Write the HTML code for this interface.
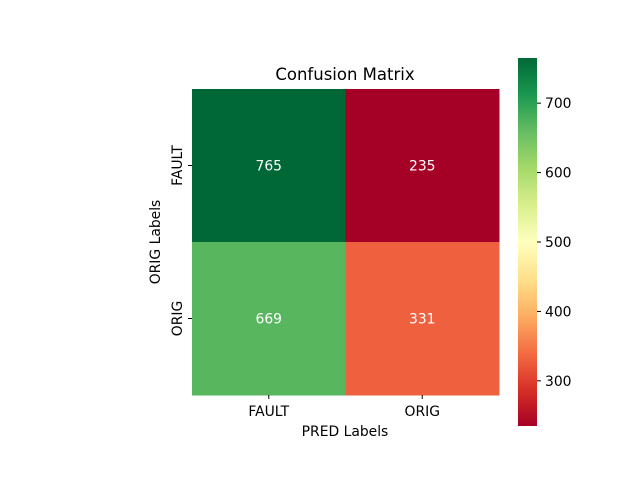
<!DOCTYPE html>
<html><head><meta charset="utf-8"><style>
body{margin:0;background:#fff;font-family:"Liberation Sans","DejaVu Sans",sans-serif;}
svg text{font-family:"DejaVu Sans","Liberation Sans",sans-serif;}
</style></head><body>
<svg id="chart" width="640" height="480" xmlns="http://www.w3.org/2000/svg">
<defs>
<linearGradient id="rdylgn" x1="0" y1="1" x2="0" y2="0">
<stop offset="0" stop-color="#a50026"/><stop offset="0.1" stop-color="#d73027"/>
<stop offset="0.2" stop-color="#f46d43"/><stop offset="0.3" stop-color="#fdae61"/>
<stop offset="0.4" stop-color="#fee08b"/><stop offset="0.5" stop-color="#ffffbf"/>
<stop offset="0.6" stop-color="#d9ef8b"/><stop offset="0.7" stop-color="#a6d96a"/>
<stop offset="0.8" stop-color="#66bd63"/><stop offset="0.9" stop-color="#1a9850"/>
<stop offset="1" stop-color="#006837"/>
</linearGradient>
</defs>
<text x="345" y="80" font-size="16.5" text-anchor="middle">Confusion Matrix</text>
<g id="cells"></g>
<text x="345" y="436" font-size="13.9" text-anchor="middle">PRED Labels</text>
<text transform="translate(160,242) rotate(-90)" font-size="13.9" text-anchor="middle">ORIG Labels</text>
<rect x="518" y="58" width="19" height="368" fill="url(#rdylgn)"/>
<g id="cbticks"></g>
</svg>
<script>
const categories = ["FAULT","ORIG"];
const values = [[765,235],[669,331]];
const cbTicks = [300,400,500,600,700];
const vmin = 235, vmax = 765;
const x0=192, x1=499, y0=89, y1=395;
const stops=[[165,0,38],[215,48,39],[244,109,67],[253,174,97],[254,224,139],[255,255,191],[217,239,139],[166,217,106],[102,189,99],[26,152,80],[0,104,55]];
function color(v){const t=(v-vmin)/(vmax-vmin)*10;const i=Math.min(9,Math.floor(t));const f=t-i;const a=stops[i],b=stops[i+1];
return `rgb(${a.map((c,k)=>Math.round(c+(b[k]-c)*f)).join(',')})`;}
const NS="http://www.w3.org/2000/svg";
const cw=(x1-x0)/categories.length, ch=(y1-y0)/categories.length;
const g=document.getElementById('cells');
function mk(tag,attrs,parent){const e=document.createElementNS(NS,tag);for(const k in attrs)e.setAttribute(k,attrs[k]);parent.appendChild(e);return e;}
values.forEach((row,r)=>row.forEach((v,c)=>{
 const rect=mk('rect',{x:x0+c*cw,y:y0+r*ch,width:cw+0.5,height:ch+0.5,fill:color(v)},g);
 
 
 const t=mk('text',{x:x0+(c+0.5)*cw,y:y0+(r+0.5)*ch+5,'font-size':13.9,'text-anchor':'middle',fill:'#fff'},g);
 t.textContent=v;
 
 
}));
categories.forEach((cat,i)=>{
 const cx=x0+(i+0.5)*cw;
 mk('line',{x1:cx,x2:cx,y1:y1,y2:y1+4,stroke:'#000'},g);
 const t=mk('text',{x:cx,y:y1+21,'font-size':13.9,'text-anchor':'middle'},g);
 t.textContent=cat;
 
 
 const cy=y0+(i+0.5)*ch;
 mk('line',{x1:x0-4,x2:x0,y1:cy,y2:cy,stroke:'#000'},g);
 const t2=mk('text',{transform:`translate(${x0-10},${cy}) rotate(-90)`,'font-size':13.9,'text-anchor':'middle'},g);
 t2.textContent=cat;
 
 
});
const cb=document.getElementById('cbticks');
cbTicks.forEach(v=>{
 const y=426-(v-vmin)/(vmax-vmin)*368;
 mk('line',{x1:537,x2:541,y1:y,y2:y,stroke:'#000'},cb);
 const t=mk('text',{x:545,y:y+5,'font-size':13.9},cb);
 t.textContent=v;
 
 
});
</script>
</body></html>
